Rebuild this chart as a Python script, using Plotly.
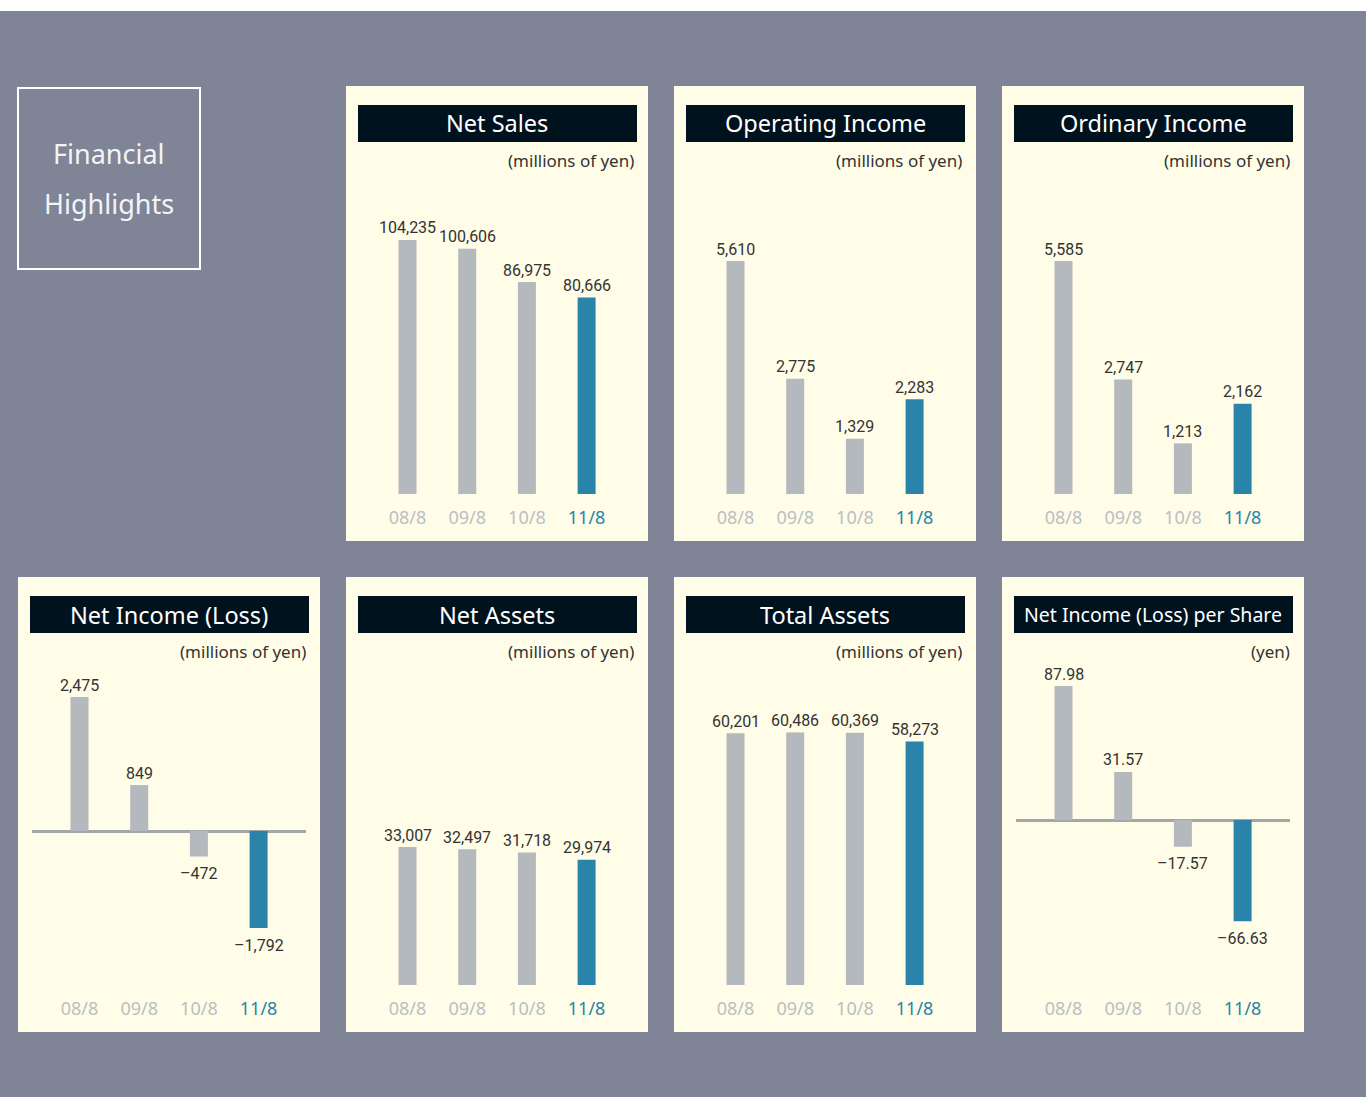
import plotly.graph_objects as go

W, H = 1366, 1097

# ---------------- data ----------------
categories = ["08/8", "09/8", "10/8", "11/8"]
net_sales = [104235, 100606, 86975, 80666]
operating_income = [5610, 2775, 1329, 2283]
ordinary_income = [5585, 2747, 1213, 2162]
net_income = [2475, 849, -472, -1792]
net_assets = [33007, 32497, 31718, 29974]
total_assets = [60201, 60486, 60369, 58273]
eps = [87.98, 31.57, -17.57, -66.63]

titles = ["Net Sales", "Operating Income", "Ordinary Income", "Net Income (Loss)",
          "Net Assets", "Total Assets", "Net Income (Loss) per Share"]
units = ["(millions of yen)"] * 6 + ["(yen)"]
series = [net_sales, operating_income, ordinary_income, net_income,
          net_assets, total_assets, eps]
decimals = [0, 0, 0, 0, 0, 0, 2]

# ---------------- layout / style ----------------
BG = "#7f8596"
PANEL = "#fffde8"
HEAD = "#01121f"
GRAY = "#b3b9bc"
BLUE = "#2a84a9"
TICK_GRAY = "#b9c0c3"
TEXT = "#333333"
NUM_FONT = "Roboto, Liberation Sans, sans-serif"
MAIN_FONT = "Noto Sans, Open Sans, sans-serif"

# panel positions (left px, top px), baseline px, pixels per unit, header font size
panels = [
    dict(L=346, T=86, base=494, ppu=254 / 104235, hs=23.5),
    dict(L=674, T=86, base=494, ppu=233 / 5610, hs=23.5),
    dict(L=1002, T=86, base=494, ppu=233 / 5585, hs=23.5),
    dict(L=18, T=577, base=831, ppu=134 / 2475, hs=23.5),
    dict(L=346, T=577, base=985, ppu=0.00418, hs=23.5),
    dict(L=674, T=577, base=985, ppu=0.00418, hs=23.5),
    dict(L=1002, T=577, base=820, ppu=134 / 87.98, hs=19.5),
]
PW, PH = 302, 455


def px(x):
    return x / W


def py(y):
    return 1 - y / H


def fmt(v, d):
    s = f"{abs(v):,.{d}f}"
    return ("–" + s) if v < 0 else s


fig = go.Figure()
shapes = []
annotations = []
layout_axes = {}

# background
shapes.append(dict(type="rect", xref="paper", yref="paper", x0=0, x1=1, y0=0, y1=py(11),
                   fillcolor=BG, line=dict(width=0), layer="below"))

# title box
shapes.append(dict(type="rect", xref="paper", yref="paper", x0=px(18), x1=px(200),
                   y0=py(269), y1=py(88), fillcolor="rgba(0,0,0,0)",
                   line=dict(color="#ffffff", width=2), layer="below"))
annotations.append(dict(text="Financial", x=px(109), y=py(154), xref="paper", yref="paper",
                        showarrow=False, font=dict(family=MAIN_FONT, size=27, color="#f2f4f8"),
                        xanchor="center", yanchor="middle"))
annotations.append(dict(text="Highlights", x=px(109), y=py(203), xref="paper", yref="paper",
                        showarrow=False, font=dict(family=MAIN_FONT, size=27, color="#f2f4f8"),
                        xanchor="center", yanchor="middle"))

spacing = 59.7
first_off = 61.5
for i, (p, vals, title, unit, d) in enumerate(zip(panels, series, titles, units, decimals)):
    L, T = p["L"], p["T"]
    # panel & header
    shapes.append(dict(type="rect", xref="paper", yref="paper", x0=px(L), x1=px(L + PW),
                       y0=py(T + PH), y1=py(T), fillcolor=PANEL, line=dict(width=0), layer="below"))
    shapes.append(dict(type="rect", xref="paper", yref="paper", x0=px(L + 12), x1=px(L + 291),
                       y0=py(T + 56), y1=py(T + 19), fillcolor=HEAD, line=dict(width=0), layer="below"))
    annotations.append(dict(text=title, x=px(L + 151), y=py(T + 37.5), xref="paper", yref="paper",
                            showarrow=False, xanchor="center", yanchor="middle",
                            font=dict(family=MAIN_FONT, size=p["hs"], color="#ffffff")))
    annotations.append(dict(text=unit, x=px(L + 290), y=py(T + 74), xref="paper", yref="paper",
                            showarrow=False, xanchor="right", yanchor="middle",
                            font=dict(family=MAIN_FONT, size=17, color=TEXT)))

    # axes
    ax = i + 1
    vmax = max(max(vals), 0)
    vmin = min(min(vals), 0)
    top_px = p["base"] - vmax * p["ppu"]
    bot_px = p["base"] - vmin * p["ppu"]
    x0p, x1p = L + 14, L + 288
    xr = [-(first_off - 14) / spacing, 3 + (288 - (first_off + 3 * spacing)) / spacing]
    label_row = 517 if T < 300 else 1008
    ticktext = [f"<span style='color:{TICK_GRAY}'>{c}</span>" for c in categories[:-1]] + \
               [f"<span style='color:{BLUE}'>{categories[-1]}</span>"]
    layout_axes[f"xaxis{ax}"] = dict(domain=[px(x0p), px(x1p)], range=xr, type="category",
                                     anchor="free", position=py(label_row - 12),
                                     showgrid=False, zeroline=False, showline=False, ticks="",
                                     tickmode="array", tickvals=categories, ticktext=ticktext,
                                     tickfont=dict(family=MAIN_FONT, size=18, color=TICK_GRAY),
                                     fixedrange=True)
    has_neg = vmin < 0
    layout_axes[f"yaxis{ax}"] = dict(domain=[py(bot_px), py(top_px)], range=[vmin, vmax],
                                     anchor=f"x{ax}", showgrid=False, showticklabels=False,
                                     showline=False, ticks="", zeroline=has_neg,
                                     zerolinecolor="#a2a7aa", zerolinewidth=3, fixedrange=True)

    fig.add_trace(go.Bar(
        x=categories, y=vals, xaxis=f"x{ax}", yaxis=f"y{ax}",
        marker=dict(color=[GRAY, GRAY, GRAY, BLUE], line=dict(width=0)),
        width=18 / spacing, cliponaxis=False,
        showlegend=False, hoverinfo="x+y",
    ))
    # value labels
    for c, v in zip(categories, vals):
        annotations.append(dict(text=fmt(v, d), x=c, y=v, xref=f"x{ax}", yref=f"y{ax}",
                                showarrow=False, xanchor="center", yanchor="middle",
                                yshift=12 if v >= 0 else -17,
                                font=dict(family=NUM_FONT, size=16, color=TEXT)))

fig.update_layout(
    width=W, height=H, margin=dict(l=0, r=0, t=0, b=0),
    paper_bgcolor="#ffffff", plot_bgcolor="rgba(0,0,0,0)",
    shapes=shapes, annotations=annotations, showlegend=False,
    **layout_axes,
)

fig.write_html("out.html")
